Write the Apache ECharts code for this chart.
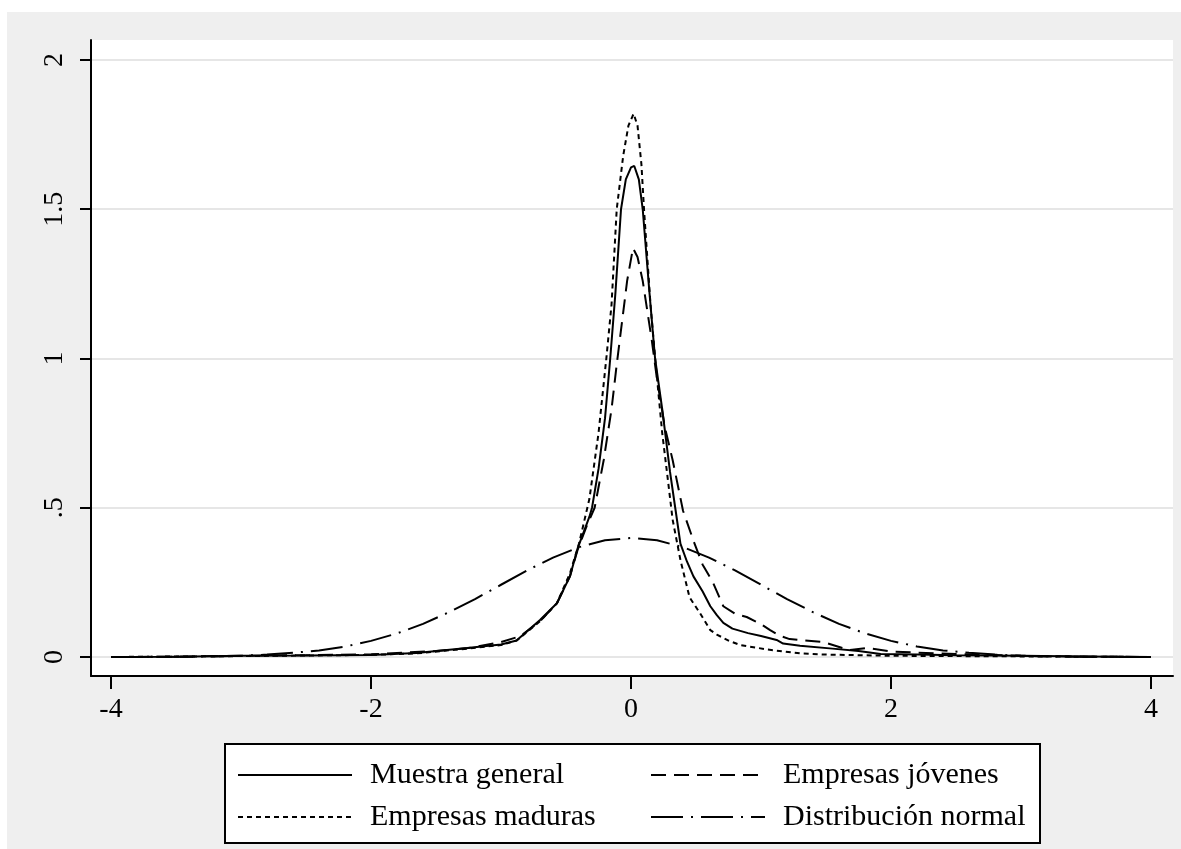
<!DOCTYPE html>
<html lang="es">
<head>
  <meta charset="UTF-8">
  <title>Densidad kernel</title>
  <style>
    html, body {
      margin: 0;
      padding: 0;
      background: #fff;
    }
    #myChart {
      position: absolute;
      left: 7px;
      top: 12px;
      width: 1174px;
      height: 837px;
    }
  </style>
</head>
<body>
  <div id="myChart"></div>
  <script src="https://cdn.jsdelivr.net/npm/echarts@6/dist/echarts.min.js"></script>
  <script>
    const seriesNames = ['Muestra general', 'Empresas jóvenes', 'Empresas maduras', 'Distribución normal'];
    const xTicks = [-4, -2, 0, 2, 4];
    const yTicks = [0, 0.5, 1, 1.5, 2];
    const yTickLabels = ['0', '.5', '1', '1.5', '2'];

    // Muestra general (linea continua)
    const generalX = [-4, -3.5, -3, -2.5, -2, -1.65, -1.26, -1, -0.88, -0.85, -0.7, -0.57, -0.47, -0.41, -0.32, -0.3, -0.25, -0.2, -0.16, -0.12, -0.077, -0.04, 0, 0.025, 0.06, 0.09, 0.14, 0.185, 0.24, 0.3, 0.34, 0.38, 0.43, 0.48, 0.55, 0.61, 0.66, 0.71, 0.78, 0.9, 1, 1.12, 1.17, 1.3, 1.55, 1.75, 1.92, 2.2, 2.5, 3, 3.5, 4];
    const generalY = [0, 0.001, 0.004, 0.005, 0.007, 0.013, 0.03, 0.042, 0.055, 0.067, 0.124, 0.18, 0.27, 0.365, 0.47, 0.5, 0.63, 0.8, 1, 1.22, 1.5, 1.6, 1.64, 1.645, 1.6, 1.5, 1.23, 1, 0.83, 0.62, 0.5, 0.38, 0.32, 0.27, 0.22, 0.17, 0.14, 0.114, 0.095, 0.08, 0.07, 0.057, 0.045, 0.038, 0.028, 0.02, 0.01, 0.008, 0.006, 0.004, 0.002, 0];

    // Empresas jóvenes (guiones)
    const jovenesX = [-4, -3.5, -3, -2.5, -2, -1.5, -1.25, -1, -0.85, -0.7, -0.57, -0.47, -0.41, -0.34, -0.28, -0.21, -0.15, -0.11, -0.07, -0.03, 0.015, 0.05, 0.09, 0.16, 0.2, 0.26, 0.32, 0.4, 0.48, 0.55, 0.63, 0.71, 0.8, 0.89, 1, 1.07, 1.15, 1.22, 1.48, 1.68, 1.82, 2, 2.5, 3, 3.5, 4];
    const jovenesY = [0, 0.001, 0.004, 0.006, 0.009, 0.02, 0.03, 0.05, 0.07, 0.12, 0.18, 0.27, 0.36, 0.44, 0.5, 0.66, 0.83, 0.98, 1.12, 1.26, 1.37, 1.34, 1.26, 1.06, 0.93, 0.77, 0.66, 0.49, 0.39, 0.31, 0.25, 0.17, 0.145, 0.134, 0.11, 0.09, 0.07, 0.06, 0.05, 0.023, 0.03, 0.018, 0.01, 0.004, 0.001, 0];

    // Empresas maduras (puntos)
    const madurasX = [-4, -3, -2.5, -2, -1.65, -1.26, -1, -0.88, -0.7, -0.57, -0.47, -0.4, -0.32, -0.25, -0.19, -0.15, -0.11, -0.06, -0.02, 0.02, 0.05, 0.08, 0.1, 0.12, 0.15, 0.19, 0.24, 0.29, 0.32, 0.38, 0.45, 0.53, 0.61, 0.66, 0.75, 0.84, 1.05, 1.3, 1.5, 2, 2.5, 3, 4];
    const madurasY = [0, 0.003, 0.005, 0.007, 0.012, 0.028, 0.04, 0.055, 0.12, 0.18, 0.28, 0.38, 0.53, 0.75, 1, 1.18, 1.5, 1.68, 1.78, 1.82, 1.78, 1.65, 1.5, 1.37, 1.18, 0.98, 0.75, 0.57, 0.46, 0.325, 0.2, 0.147, 0.09, 0.075, 0.055, 0.04, 0.025, 0.012, 0.008, 0.004, 0.003, 0.002, 0];

    // Distribución normal (raya-punto)
    const normalX = [-4, -3.8, -3.6, -3.4, -3.2, -3, -2.8, -2.6, -2.4, -2.2, -2, -1.8, -1.6, -1.4, -1.2, -1, -0.8, -0.6, -0.4, -0.2, 0, 0.2, 0.4, 0.6, 0.8, 1, 1.2, 1.4, 1.6, 1.8, 2, 2.2, 2.4, 2.6, 2.8, 3, 3.2, 3.4, 3.6, 3.8, 4];
    const normalY = [0, 0, 0.001, 0.001, 0.002, 0.004, 0.008, 0.014, 0.022, 0.035, 0.054, 0.079, 0.111, 0.15, 0.194, 0.242, 0.29, 0.333, 0.368, 0.391, 0.399, 0.391, 0.368, 0.333, 0.29, 0.242, 0.194, 0.15, 0.111, 0.079, 0.054, 0.035, 0.022, 0.014, 0.008, 0.004, 0.002, 0.001, 0.001, 0, 0];

    const pairs = (xs, ys) => xs.map((x, i) => [x, ys[i]]);
    const serif = 'Liberation Serif';

    const myChart = echarts.init(document.getElementById('myChart'));
    const lineSeries = (name, xs, ys, type) => ({
      name,
      type: 'line',
      data: pairs(xs, ys),
      symbol: 'none',
      silent: true,
      animation: false,
      lineStyle: { color: '#000', width: 2, type },
      itemStyle: { color: '#000', opacity: 0 },
    });

    const legendBase = {
      orient: 'vertical',
      top: 748,
      padding: 0,
      itemWidth: 114,
      itemHeight: 14,
      itemGap: 12,
      selectedMode: false,
      itemStyle: { opacity: 0 },
      textStyle: {
        fontFamily: serif,
        fontSize: 30,
        color: '#000',
        lineHeight: 30,
        padding: [0, 0, 0, 13],
      },
    };

    const option = {
      backgroundColor: '#efefef',
      animation: false,
      grid: {
        left: 84,
        top: 28,
        right: 8,
        bottom: 173,
        show: true,
        backgroundColor: '#fff',
        borderWidth: 0,
      },
      xAxis: {
        type: 'value',
        min: -4.154,
        max: 4.169,
        axisLine: { show: true, onZero: false, lineStyle: { color: '#000', width: 2 } },
        axisTick: { show: true, length: 13, customValues: xTicks, lineStyle: { color: '#000', width: 2 } },
        axisLabel: {
          customValues: xTicks,
          margin: 20,
          fontFamily: serif,
          fontSize: 28,
          color: '#000',
          formatter: v => String(v),
        },
        splitLine: { show: false },
      },
      yAxis: {
        type: 'value',
        min: -0.0637,
        max: 2.067,
        axisLine: { show: true, onZero: false, lineStyle: { color: '#000', width: 2 } },
        axisTick: { show: true, length: 11, customValues: yTicks, lineStyle: { color: '#000', width: 2 } },
        axisLabel: {
          customValues: yTicks,
          rotate: 90,
          margin: 22,
          fontFamily: serif,
          fontSize: 28,
          color: '#000',
          formatter: v => yTickLabels[yTicks.indexOf(v)] ?? String(v),
        },
        splitLine: { show: true, lineStyle: { color: '#e6e6e6', width: 2 } },
      },
      graphic: [{
        type: 'rect',
        left: 217,
        top: 731,
        z: 0,
        shape: { width: 815, height: 99 },
        style: { fill: '#fff', stroke: '#000', lineWidth: 2 },
      }],
      legend: [
        Object.assign({}, legendBase, { left: 230, data: [seriesNames[0], seriesNames[2]] }),
        Object.assign({}, legendBase, { left: 643, data: [seriesNames[1], seriesNames[3]] }),
      ],
      series: [
        lineSeries(seriesNames[0], generalX, generalY, 'solid'),
        lineSeries(seriesNames[1], jovenesX, jovenesY, [15, 8]),
        lineSeries(seriesNames[2], madurasX, madurasY, [5, 4]),
        lineSeries(seriesNames[3], normalX, normalY, [32, 8, 2, 8]),
      ],
    };
    myChart.setOption(option);
  </script>
</body>
</html>
